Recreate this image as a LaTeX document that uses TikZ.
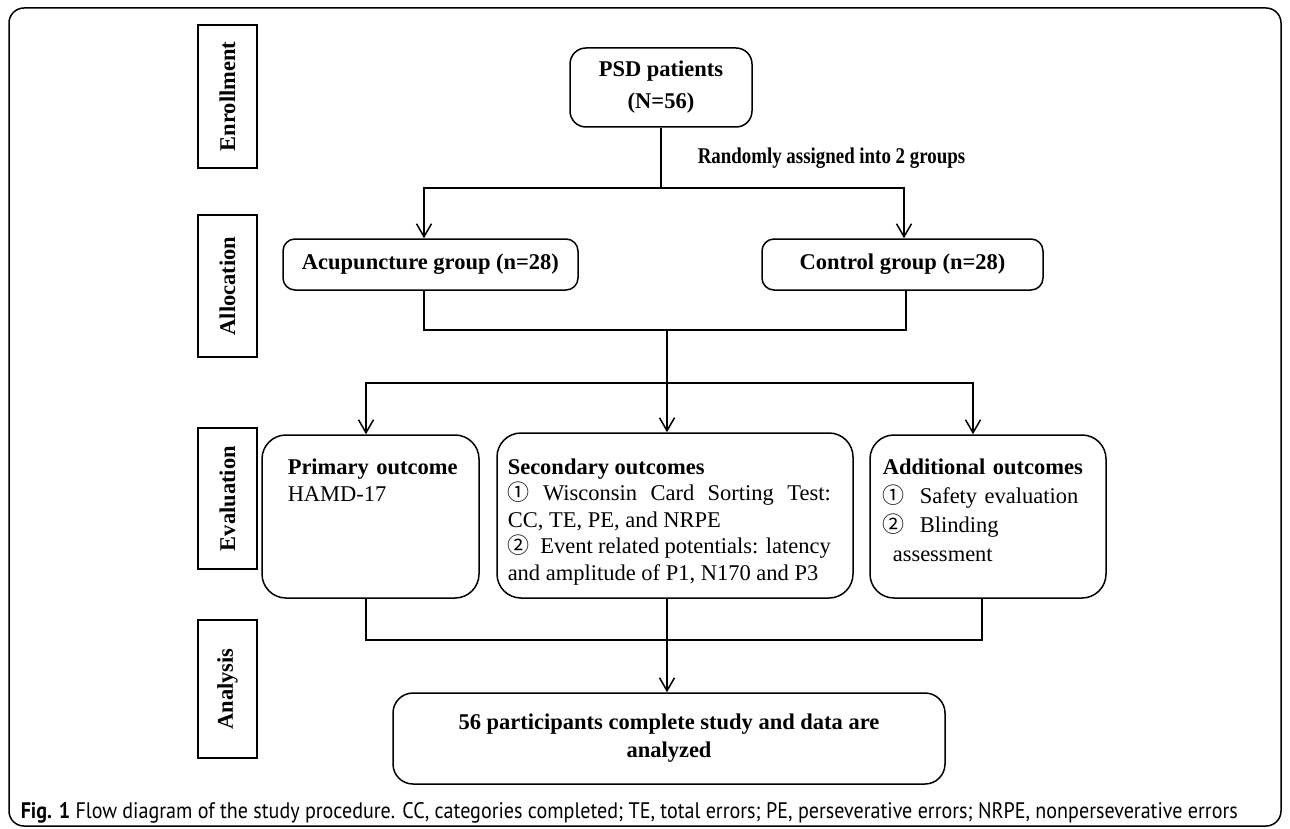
\documentclass[tikz,border=0pt]{standalone}
\usepackage{fontspec}
\setmainfont{Liberation Serif}
\newfontfamily\capfont{PT Sans}
\newfontfamily\circfont{Noto Sans CJK SC}
\usetikzlibrary{arrows.meta, positioning}
\newcommand{\boxfont}{\fontsize{22.5}{27}\selectfont}
\newcommand{\cnum}[1]{{\circfont\fontsize{22}{22}\selectfont #1}}

\begin{document}
\begin{tikzpicture}[x=1pt, y=-1pt, line width=1.5pt,
    stagebox/.style={draw, rotate=90, minimum height=59pt, inner sep=0pt, font=\boxfont\bfseries},
    groupbox/.style={draw, inner sep=0pt, font=\boxfont\bfseries},
    outbox/.style={draw, rounded corners=24pt, minimum height=163pt, inner sep=0pt},
    outtext/.style={anchor=base west, inner sep=0pt, text width=#1},
    arr/.style={-{Straight Barb[length=13pt, width=15pt]}},
]
\useasboundingbox (0,0) rectangle (1290,829);
\draw[rounded corners=15pt] (9,8) rectangle (1281,826);

% stage labels
\node[stagebox, minimum width=143pt] (enrol) at (227.5,96.5) {Enrollment};
\node[stagebox, minimum width=142pt] (alloc) at (227.5,286) {Allocation};
\node[stagebox, minimum width=141pt] (evalu) at (227.5,498.5) {Evaluation};
\node[stagebox, minimum width=138pt] (analy) at (227.5,689) {Analysis};

% enrollment and allocation
\node[groupbox, rounded corners=16pt, minimum width=182pt, minimum height=79pt,
      align=center, font=\fontsize{22.5}{32}\selectfont\bfseries] (psd) at (661,87.5) {PSD patients\\(N=56)};
\node[anchor=base west, inner sep=0pt, font=\boxfont\bfseries] (rand) at (697,164)
    {\scalebox{0.84}[1]{Randomly assigned into 2 groups}};
\node[groupbox, rounded corners=12pt, minimum width=295pt, minimum height=51pt] (acu) at (430.5,264.5) {Acupuncture group (n=28)};
\node[groupbox, rounded corners=12pt, minimum width=281pt, minimum height=51pt] (ctl) at (902.5,264.5) {Control group (n=28)};

% evaluation
\node[outbox, minimum width=217pt] (prim) at (370.5,516.5) {};
\node[outbox, minimum width=356pt, minimum height=165pt] (sec) at (675,515.5) {};
\node[outbox, minimum width=236pt] (add) at (988,516.5) {};
\node[outtext=180pt, align=left, font=\fontsize{22.5}{27}\selectfont] (primtxt) at (287,474)
    {\textbf{Primary outcome}\par HAMD-17};
\node[outtext=323pt, align=justify, font=\fontsize{22.5}{26.5}\selectfont] (sectxt) at (507,474)
    {\textbf{Secondary outcomes}\par
     \cnum{①} Wisconsin Card Sorting Test:\linebreak CC, TE, PE, and NRPE\par
     \cnum{②}\ \ Event related potentials: latency\linebreak and amplitude of P1, N170 and P3};
\node[outtext=225pt, align=left, font=\fontsize{22.5}{29}\selectfont] (addtxt) at (882,474)
    {\textbf{Additional outcomes}\par
     \cnum{①}\ \ Safety evaluation\par
     \cnum{②}\ \ Blinding\par
     \hspace*{10pt}assessment};

% analysis
\node[groupbox, rounded corners=20pt, minimum width=552pt, minimum height=91pt,
      align=center, font=\fontsize{22.5}{28}\selectfont\bfseries] (final) at (669,738.5)
    {56 participants complete study and data are\\analyzed};

% connectors
\coordinate (split) at (661,188);
\coordinate (join) at (667,330);
\coordinate (fork) at (667,383);
\coordinate (merge) at (667,640);
\draw (psd.south) -- (split);
\draw[arr] (split) -| ([xshift=-6.5pt]acu.north);
\draw[arr] (split) -| ([xshift=1.5pt]ctl.north);
\draw ([xshift=-6.5pt]acu.south) |- (join) -| ([xshift=3.5pt]ctl.south);
\draw (join) -- (fork);
\draw[arr] (fork) -| ([xshift=-4.5pt]prim.north);
\draw[arr] (fork) -- ([xshift=-8pt]sec.north);
\draw[arr] (fork) -| ([xshift=-15pt]add.north);
\draw ([xshift=-4.5pt]prim.south) |- (merge) -| ([xshift=-6pt]add.south);
\draw[arr] ([xshift=-8pt]sec.south) -- ([xshift=-2pt]final.north);

% caption
\node[anchor=base west, inner sep=0pt, font=\capfont\fontsize{20}{24}\selectfont] (caption) at (20,818)
    {\resizebox{1217pt}{16pt}{\textbf{Fig. 1} Flow diagram of the study procedure. CC, categories completed; TE, total errors; PE, perseverative errors; NRPE, nonperseverative errors}};
\end{tikzpicture}
\end{document}
